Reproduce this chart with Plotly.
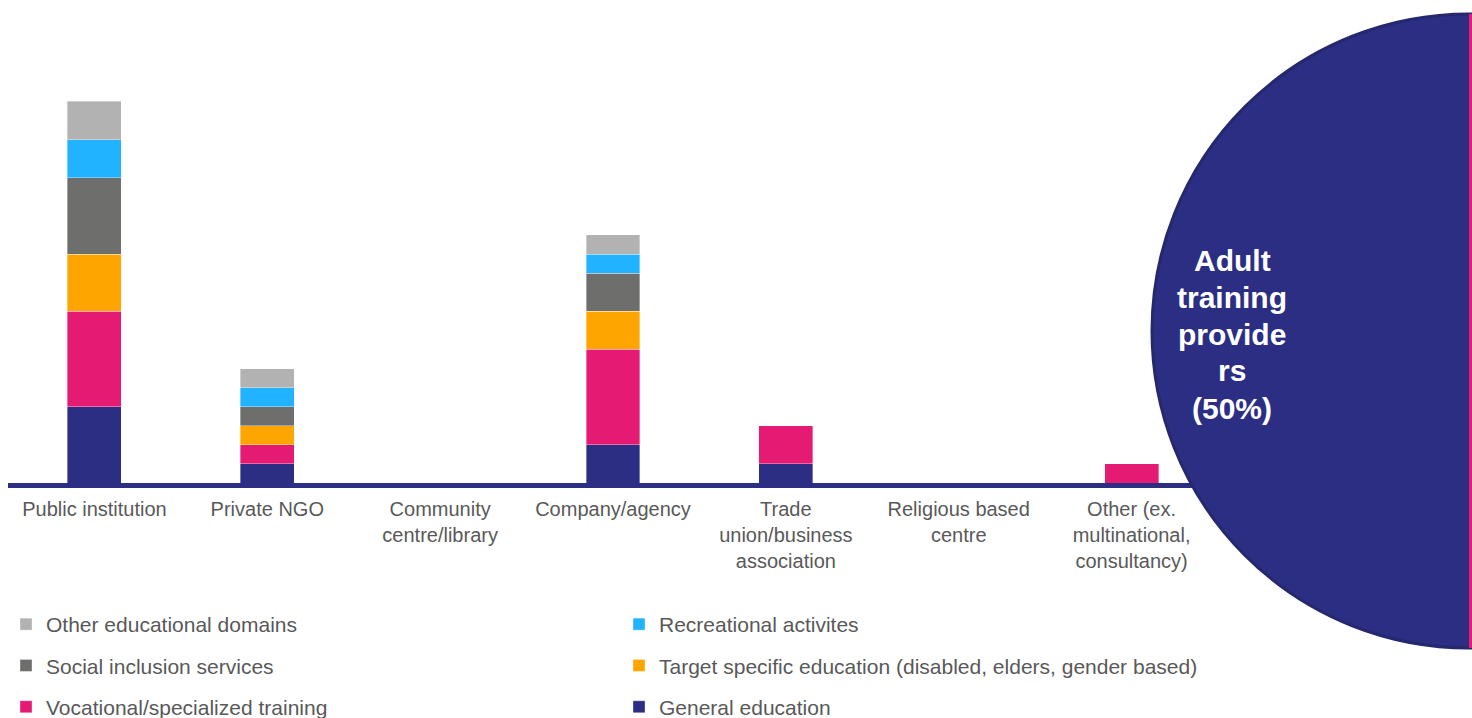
import plotly.graph_objects as go

categories = ["Public institution", "Private NGO", "Community<br>centre/library", "Company/agency",
              "Trade<br>union/business<br>association", "Religious based<br>centre",
              "Other (ex.<br>multinational,<br>consultancy)"]

general = [4, 1, 0, 2, 1, 0, 0]
vocational = [5, 1, 0, 5, 2, 0, 1]
target = [3, 1, 0, 2, 0, 0, 0]
social = [4, 1, 0, 2, 0, 0, 0]
recreational = [2, 1, 0, 1, 0, 0, 0]
other_edu = [2, 1, 0, 1, 0, 0, 0]

series_names = ["General education", "Vocational/specialized training",
                "Target specific education (disabled, elders, gender based)",
                "Social inclusion services", "Recreational activites", "Other educational domains"]
series_vals = [general, vocational, target, social, recreational, other_edu]
colors = ["#2B2E83", "#E51A72", "#FFA500", "#6E6E6D", "#21B3FF", "#B1B2B1"]
legend_ids = ["legend2", "legend", "legend2", "legend", "legend2", "legend"]
legend_ranks = [6, 5, 4, 3, 2, 1]

circle_lines = ["Adult", "training", "provide", "rs", "(50%)"]

W, H = 1472, 718
L, R, T, B = 8, 254, 25, 235
PW, PH = W - L - R, H - T - B

def px(x):
    return (x - L) / PW

def py(y):
    return (H - B - y) / PH

fig = go.Figure()
for name, vals, col, lg, rk in zip(series_names, series_vals, colors, legend_ids, legend_ranks):
    fig.add_trace(go.Bar(x=list(range(len(categories))), y=vals, name=name,
                         marker=dict(color=col, line=dict(color="rgba(255,255,255,0.6)", width=0.6)),
                         legend=lg, legendgroup=name, legendrank=rk, hoverinfo="skip"))

font_fam = "Liberation Sans, Arial, sans-serif"

fig.update_layout(
    width=W, height=H,
    margin=dict(l=L, r=R, t=T, b=B, autoexpand=False),
    barmode="stack", bargap=0.688,
    plot_bgcolor="white", paper_bgcolor="white",
    font=dict(family=font_fam, size=20, color="#595959"),
    xaxis=dict(tickmode="array", tickvals=list(range(len(categories))), ticktext=categories,
               range=[-0.5, len(categories) - 0.5], showgrid=False, zeroline=False,
               showline=True, linecolor="#2B2E83", linewidth=5, ticks="", automargin=False,
               tickfont=dict(size=20, color="#595959"), ticklabelstandoff=4),
    yaxis=dict(range=[0, 24], visible=False, showgrid=False),
    legend=dict(x=px(6), xanchor="left", y=py(604), yanchor="top", orientation="v",
                traceorder="grouped", tracegroupgap=11,
                font=dict(size=21, color="#595959"), itemwidth=30, bgcolor="rgba(0,0,0,0)"),
    legend2=dict(x=px(619), xanchor="left", y=py(604), yanchor="top", orientation="v",
                 traceorder="grouped", tracegroupgap=11,
                 font=dict(size=21, color="#595959"), itemwidth=30, bgcolor="rgba(0,0,0,0)"),
)

cx, cy, r = 1469, 331, 317
fig.add_shape(type="circle", xref="paper", yref="paper",
              x0=px(cx - r), x1=px(cx + r), y0=py(cy + r), y1=py(cy - r),
              fillcolor="#2B2E83", line=dict(color="#26286E", width=3), layer="above")
fig.add_shape(type="line", xref="paper", yref="paper",
              x0=px(1470.5), x1=px(1470.5), y0=py(cy + r), y1=py(cy - r),
              line=dict(color="#E51A72", width=3), layer="above")

line_y = [260, 297, 334, 370, 408]
for txt, yy in zip(circle_lines, line_y):
    fig.add_annotation(x=px(1232), y=py(yy), xref="paper", yref="paper", text="<b>" + txt + "</b>",
                       showarrow=False, xanchor="center", yanchor="middle",
                       font=dict(family=font_fam, size=30, color="white"))

fig.write_html("out.html")
